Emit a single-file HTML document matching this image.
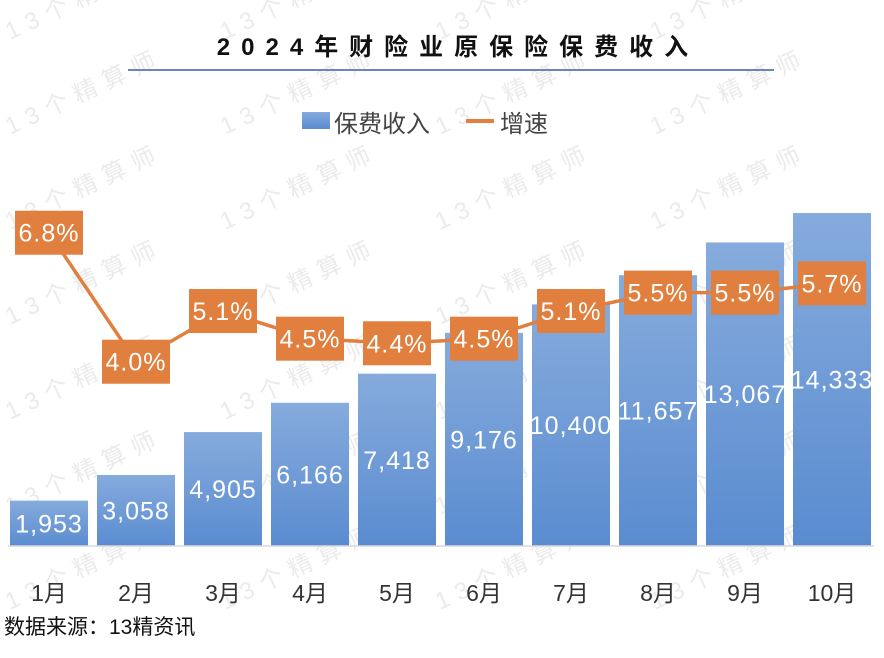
<!DOCTYPE html>
<html><head><meta charset="utf-8"><style>
body{margin:0;background:#fff;font-family:"Liberation Sans","Noto Sans CJK SC",sans-serif;}
#wrap{position:relative;width:884px;height:658px;overflow:hidden;}
</style></head><body>
<div id="wrap">
<svg id="chart" width="884" height="658" xmlns="http://www.w3.org/2000/svg">
<defs><linearGradient id="bg" x1="0" y1="0" x2="0" y2="1"><stop offset="0" stop-color="#86ABDD"/><stop offset="1" stop-color="#5A8CD0"/></linearGradient></defs>
<g id="wm"></g>
<text x="458" y="55" text-anchor="middle" font-size="24" font-weight="bold" letter-spacing="11" fill="#111" font-family="Liberation Sans, Noto Sans CJK SC, sans-serif">2024年财险业原保险保费收入</text>
<line x1="128" y1="70" x2="774" y2="70" stroke="#6D86B8" stroke-width="2"/>
<g>
<rect x="302" y="112" width="28" height="17" fill="url(#bg)"/>
<text x="334" y="132" font-size="24" fill="#444">保费收入</text>
<line x1="466" y1="121" x2="494" y2="121" stroke="#E07F3E" stroke-width="4"/>
<text x="500" y="132" font-size="24" fill="#444">增速</text>
</g>
<g id="bars"></g>
<line x1="8" y1="546" x2="874" y2="546" stroke="#D9D9D9" stroke-width="1.5"/>
<g id="xl"></g>
<g id="line"></g>
<text x="4" y="634" font-size="21" fill="#111">数据来源：13精资讯</text>
</svg>
</div>
<script>
const categories=["1月","2月","3月","4月","5月","6月","7月","8月","9月","10月"];
const premiums=[1953,3058,4905,6166,7418,9176,10400,11657,13067,14333];
const growth=[6.8,4.0,5.1,4.5,4.4,4.5,5.1,5.5,5.5,5.7];
const premiumLabels=["1,953","3,058","4,905","6,166","7,418","9,176","10,400","11,657","13,067","14,333"];
const NS="http://www.w3.org/2000/svg";
const base=546;
const xC=i=>49+i*87;
const yB=v=>base-v*0.02323;
const yL=v=>base-v*46.07;
function mk(t,a,p){const e=document.createElementNS(NS,t);for(const k in a)e.setAttribute(k,a[k]);p.appendChild(e);return e;}
const bars=document.getElementById('bars'),xl=document.getElementById('xl'),lg=document.getElementById('line'),wm=document.getElementById('wm');
for(let r=0;r<7;r++)for(let c=0;c<4;c++){
 const t=mk('text',{x:10+c*215,y:40+r*95,'font-size':24,fill:'#EBEBEB','letter-spacing':8,transform:`rotate(-25 ${10+c*215} ${40+r*95})`},wm);
 
 
 t.textContent='13个精算师';
}
premiums.forEach((v,i)=>{
 const r=mk('rect',{x:xC(i)-39,y:yB(v),width:78,height:base-yB(v),fill:'url(#bg)'},bars);
 
 
 const ly=Math.max((yB(v)+base)/2,yB(v)+17);
 const t=mk('text',{x:xC(i),y:ly+9,'text-anchor':'middle','font-size':25,'letter-spacing':1,fill:'#fff'},bars);
 
 
 t.textContent=premiumLabels[i];
 const x=mk('text',{x:xC(i),y:601,'text-anchor':'middle','font-size':23,fill:'#333'},xl);
 
 
 x.textContent=categories[i];
});
const pl=mk('polyline',{points:growth.map((v,i)=>xC(i)+','+yL(v)).join(' '),fill:'none',stroke:'#E07F3E','stroke-width':3.5},lg);


growth.forEach((v,i)=>{
 const b=mk('rect',{x:xC(i)-34,y:yL(v)-22,width:68,height:44,fill:'#E07F3E'},lg);
 
 
 const t=mk('text',{x:xC(i),y:yL(v)+9,'text-anchor':'middle','font-size':25,'letter-spacing':1,fill:'#fff'},lg);
 
 
 t.textContent=v.toFixed(1)+'%';
});
</script>
</body></html>
